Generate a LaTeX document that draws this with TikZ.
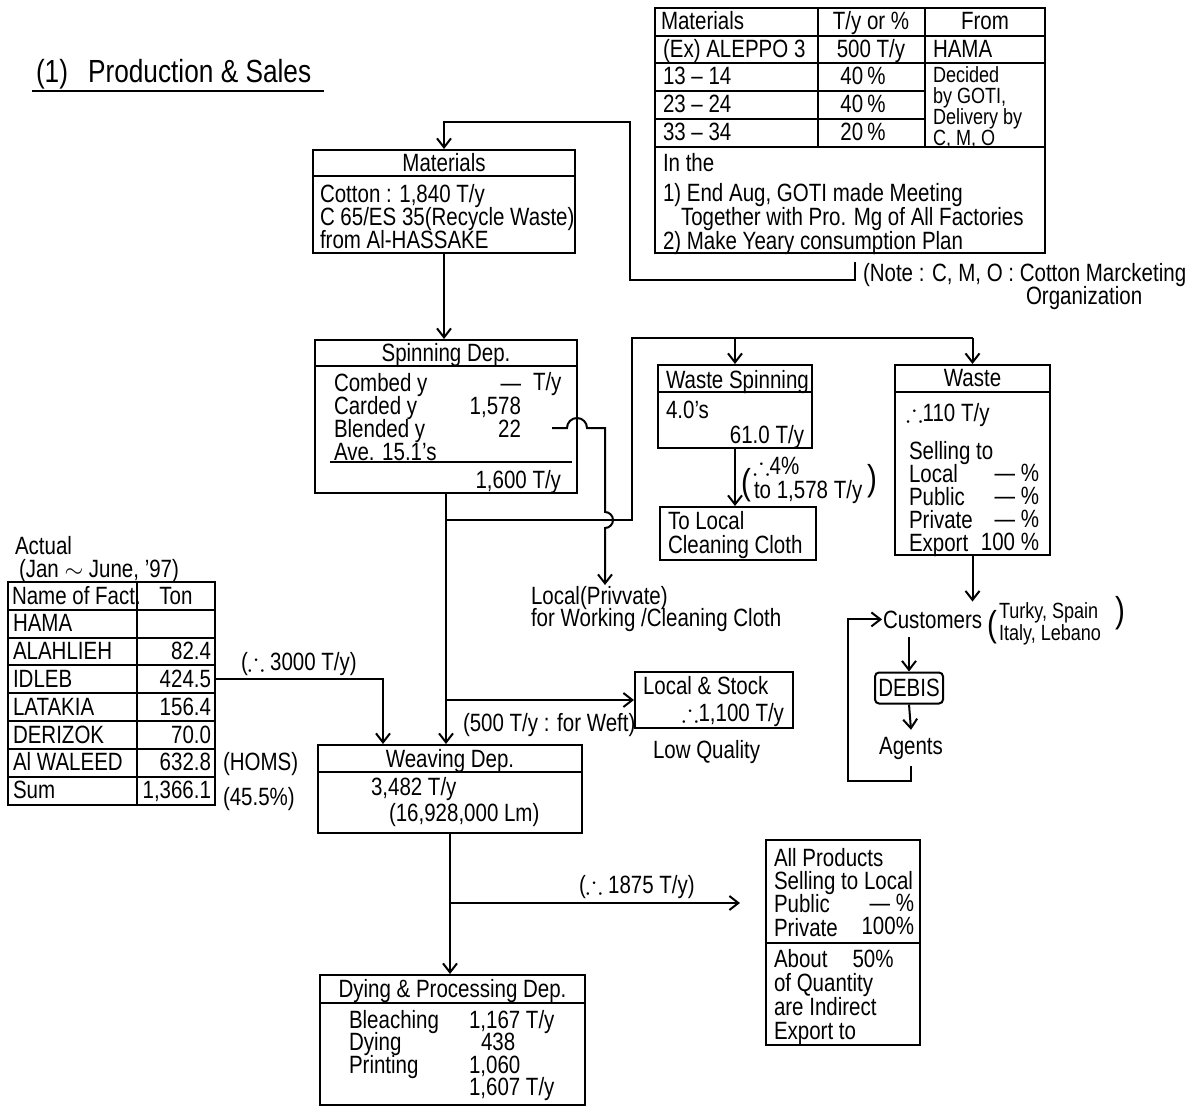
\documentclass[tikz,border=0pt]{standalone}
\usepackage{amssymb}
\usepackage{fontspec}
\setmainfont{Liberation Sans}[FakeStretch=0.82]
\usetikzlibrary{arrows.meta,fit,positioning}
\newcommand{\tightlines}{\lineskiplimit -10pt\relax}

\begin{document}
\begin{tikzpicture}[x=0.5pt, y=-0.5pt, line width=1pt,
    >={Straight Barb[length=4.5pt,width=7pt]},
    box/.style={draw, inner sep=0pt, fit={#1}},
    txt/.style={inner sep=0pt, anchor=base west, font=\fontsize{12.5}{12}\selectfont},
    ctr/.style={txt, anchor=base},
    rgt/.style={txt, anchor=base east},
    multi/.style={inner sep=0pt, anchor=north west, align=left,
      font={\fontsize{12.5}{#1}\selectfont\tightlines}},
    multi/.default=11.6,
    small/.style={multi, font={\fontsize{11}{#1}\selectfont\tightlines}},
    paren/.style={txt, font=\fontsize{18}{18}\selectfont}]
\useasboundingbox (0,0) rectangle (1202,1107);

\node[txt, font=\fontsize{16}{18}\selectfont] (title) at (35,83) {(1)\hspace{10pt}Production \& Sales};
\draw ([xshift=-1.5pt]title.south west) -- ([xshift=6pt]title.south east);

% materials plan table
\node[box={(655,8) (1045,253)}] (plan) {};
\foreach \yy in {36,63,147} \draw (plan.west |- 0,\yy) -- (plan.east |- 0,\yy);
\foreach \yy in {91,119} \draw (plan.west |- 0,\yy) -- (925,\yy);
\foreach \xx in {818,925} \draw (\xx,0 |- plan.north) -- (\xx,147);
\node[txt] at (660,30) {Materials};
\node[ctr] at (871,30) {T/y or \%};
\node[ctr] at (985,30) {From};
\node[txt] at (662,58) {(Ex) ALEPPO 3};
\node[ctr] at (871,58) {500 T/y};
\node[txt] at (932,58) {HAMA};
\foreach \rw/\pc [count=\i] in {13 -- 14/40, 23 -- 24/40, 33 -- 34/20} {
  \node[txt] at (662,{57+28*\i}) {\rw};
  \node[ctr] at (863,{57+28*\i}) {\pc\,\%};
}
\node[small=10.4] at (932,66) {Decided\\by GOTI,\\Delivery by\\C, M, O};
\node[txt] at (662,171) {In the};
\node[multi=12] at (662,182) {1)\ End Aug, GOTI made Meeting\\\hspace{9pt}Together with Pro. Mg of All Factories\\2)\ Make Yeary consumption Plan};
\coordinate (notebr) at (855,262);
\node[txt] (note) at (862,281) {(Note : C, M, O : Cotton Marcketing};
\node[txt] (org) at (1025,304) {Organization};

% departments
\node[box={(313,150) (575,253)}] (mat) {};
\draw (mat.west |- 0,176) -- (mat.east |- 0,176);
\node[ctr] at (mat.north |- 0,171) {Materials};
\node[multi=11.7] at (319,183) {Cotton : 1,840 T/y\\C 65/ES 35(Recycle Waste)\\from Al-HASSAKE};

\node[box={(315,340) (577,493)}] (spin) {};
\draw (spin.west |- 0,366) -- (spin.east |- 0,366);
\node[ctr] at (spin.north |- 0,361) {Spinning Dep.};
\node[multi=11.5] at (333,372) {Combed y\\Carded y\\Blended y\\Ave. 15.1's};
\node[multi=11.5, anchor=north east, align=right] at (522,372) {\vphantom{Cb}---\\1,578\\22};
\node[txt] at (532,390) {T/y};
\draw (330,462) -- (572,462);
\node[rgt] at (562,488) {1,600 T/y};
\coordinate (blend) at (552,428);
\node[multi=11] (lpriv) at (530,585) {Local(Privvate)\\for Working /Cleaning Cloth};

\node[box={(658,365) (812,448)}] (wspin) {};
\draw (wspin.west |- 0,392) -- (wspin.east |- 0,392);
\node[txt] at (665,388) {Waste Spinning};
\node[txt] at (665,418) {4.0's};
\node[rgt] at (805,443) {61.0 T/y};
\node[paren] at (740,494) {(};
\node[txt] at (752,474) {$\therefore$4\%};
\node[txt] at (753,498) {to 1,578 T/y};
\node[paren] at (866,490) {)};

\node[box={(660,507) (816,560)}] (tocl) {};
\node[multi=12.3] at (667,510) {To Local\\Cleaning Cloth};

\node[box={(895,365) (1050,555)}] (waste) {};
\draw (waste.west |- 0,392) -- (waste.east |- 0,392);
\node[ctr] at (waste.north |- 0,386) {Waste};
\node[txt] at (905,421) {$\therefore$110 T/y};
\node[multi] at (908,440) {Selling to\\Local\\Public\\Private\\Export};
\node[multi, anchor=north east, align=right] at (1040,463) {--- \%\\--- \%\\--- \%\\100 \%};

\node[txt, inner ysep=4pt] (cust) at (882,628) {Customers};
\node[paren] at (986,636) {(};
\node[small=10.6] at (998,602) {Turky, Spain\\Italy, Lebano};
\node[paren] at (1114,622) {)};
\node[draw, rounded corners=2pt, minimum width=34pt, minimum height=15.5pt, inner sep=1pt,
  font=\fontsize{12.5}{12}\selectfont] (debis) at (909,688) {DEBIS};
\node[txt, anchor=base, inner ysep=3pt] (agents) at (911,754) {Agents};

% factories table
\node[multi=11.5] at (14,535) {Actual\\\hspace{2pt}(Jan $\sim$ June, '97)};
\node[box={(8,582) (215,805)}] (fact) {};
\draw (137,0 |- fact.north) -- (137,0 |- fact.south);
\foreach \i [evaluate=\i as \yy using 582+27.8*\i] in {1,...,7} \draw (8,\yy) -- (215,\yy);
\node[txt] at (11,604) {Name of Fact.};
\node[ctr] at (176,604) {Ton};
\foreach \nm/\val [count=\i] in {HAMA/{}, ALAHLIEH/82.4, IDLEB/424.5, LATAKIA/156.4,
    DERIZOK/70.0, Al WALEED/632.8, Sum/{1,366.1}} {
  \node[txt] at (12,{604+27.8*\i}) {\nm};
  \node[rgt] at (212,{604+27.8*\i}) {\val};
}
\coordinate (idleb) at (fact.east |- 0,679);
\node[txt] at (240,670) {($\therefore$ 3000 T/y)};
\node[txt] at (222,770) {(HOMS)};
\node[txt] at (222,805) {(45.5\%)};

\node[box={(318,745) (582,833)}] (weave) {};
\draw (weave.west |- 0,772) -- (weave.east |- 0,772);
\node[ctr] at (weave.north |- 0,767) {Weaving Dep.};
\node[txt] at (370,795) {3,482 T/y};
\node[txt] at (388,821) {(16,928,000 Lm)};

\node[box={(635,672) (793,728)}] (stock) {};
\node[txt] at (642,694) {Local \& Stock};
\node[rgt] at (785,721) {$\therefore$1,100 T/y};
\node[txt, below=5pt of stock.south west, anchor=north west, xshift=9pt] (lowq) {Low Quality};
\node[txt] at (462,731) {(500 T/y : for Weft)};

\node[box={(320,975) (585,1105)}] (dye) {};
\draw (dye.west |- 0,1003) -- (dye.east |- 0,1003);
\node[ctr] at (dye.north |- 0,997) {Dying \& Processing Dep.};
\node[multi=11.3] at (348,1009) {Bleaching\\Dying\\Printing};
\node[multi=11.3] at (468,1009) {1,167 T/y\\\hspace{6pt}438\\1,060\\1,607 T/y};

\node[box={(766,840) (920,1045)}] (prod) {};
\draw (prod.west |- 0,943) -- (prod.east |- 0,943);
\node[multi=11.65] at (773,847) {All Products\\Selling to Local\\Public\\Private};
\node[multi=11.65, anchor=north east, align=right] at (915,893) {--- \%\\100\%};
\node[multi=12] at (773,948) {About\quad 50\%\\of Quantity\\are Indirect\\Export to};
\coordinate (sale) at (740,903);
\node[txt] at (578,893) {($\therefore$ 1875 T/y)};

% connectors
\draw[->] (notebr) -- (855,280) -| (630,122) -| (mat.north);
\draw[->] (mat.south) -- (mat.south |- spin.north);
\draw[->] (spin.south) -- (spin.south |- weave.north);
\draw (spin.south |- 0,520) -- (632,520) -- (632,338) -- (waste.north |- 0,338);
\draw[->] (wspin.north |- 0,338) -- (wspin.north);
\draw[->] (waste.north |- 0,338) -- (waste.north);
\draw[->] (blend) -- (567,428) arc[start angle=180, end angle=0, radius=5pt] -- (605,428)
  -- (605,512) arc[start angle=90, end angle=-90, radius=4pt] -- (605,0 |- lpriv.north);
\draw[->] (wspin.south) -- (wspin.south |- tocl.north);
\draw[->] (waste.south) -- (waste.south |- cust.north);
\draw[->] (debis.north |- cust.south) -- (debis.north);
\draw[->] (debis.south) -- (agents.north);
\draw[->] (agents.south) -- ++(0,15) -| ([xshift=-17pt]cust.west) -- (cust.west);
\draw[->] (idleb) -| (weave.north -| 383,0);
\draw[->] (spin.south |- stock.west) -- (stock.west);
\draw[->] (weave.south) -- (weave.south |- dye.north);
\draw[->] (weave.south |- sale) -- (sale);
\end{tikzpicture}
\end{document}
